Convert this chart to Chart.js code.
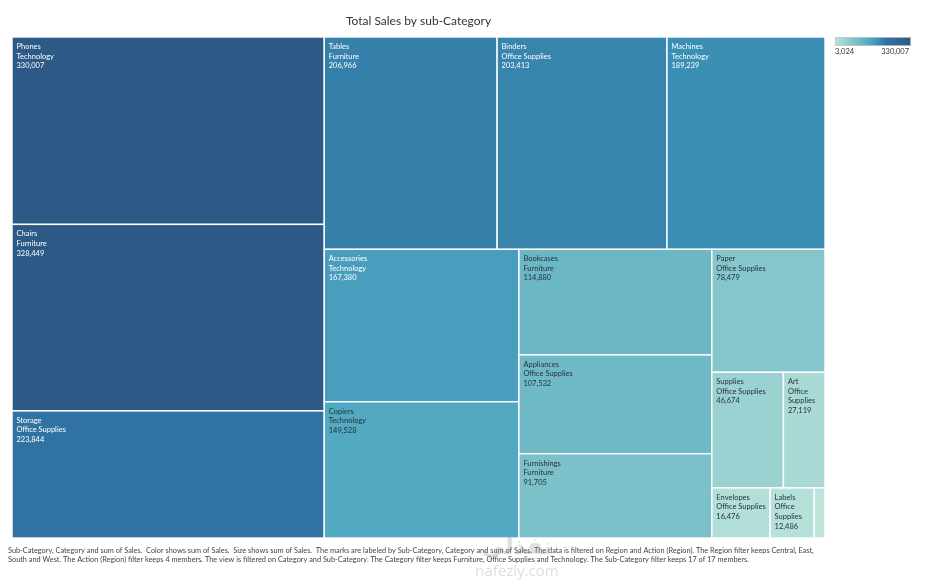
<!DOCTYPE html>
<html>
<head>
<meta charset="utf-8">
<script src="https://cdn.jsdelivr.net/npm/chart.js@4.4.1/dist/chart.umd.min.js"></script>
<style>
html,body{margin:0;padding:0;background:#ffffff;}
#wrap{width:925px;height:583px;position:relative;}
</style>
</head>
<body>
<div id="wrap"><canvas id="c" width="925" height="583"></canvas></div>
<script>
// ---- data ----
const subCategories = ['Phones','Chairs','Storage','Tables','Binders','Machines','Accessories','Copiers','Bookcases','Appliances','Furnishings','Paper','Supplies','Art','Envelopes','Labels','Fasteners'];
const categories = ['Technology','Furniture','Office Supplies','Furniture','Office Supplies','Technology','Technology','Technology','Furniture','Office Supplies','Furniture','Office Supplies','Office Supplies','Office Supplies','Office Supplies','Office Supplies','Office Supplies'];
const sales = [330007,328449,223844,206966,203413,189239,167380,149528,114880,107532,91705,78479,46674,27119,16476,12486,3024];
// number of cells per strip of the squarified layout, in order
const stripSizes = [3,3,2,3,1,2,1,1,1];
const legendTicks = ['3,024','330,007'];
const titleText = 'Total Sales by sub-Category';
const footerLines = [
  'Sub-Category, Category and sum of Sales.  Color shows sum of Sales.  Size shows sum of Sales.  The marks are labeled by Sub-Category, Category and sum of Sales. The data is filtered on Region and Action (Region). The Region filter keeps Central, East,',
  'South and West. The Action (Region) filter keeps 4 members. The view is filtered on Category and Sub-Category. The Category filter keeps Furniture, Office Supplies and Technology. The Sub-Category filter keeps 17 of 17 members.'
];

// ---- colour ramp (blue-teal) ----
const rampStops = [
  [0.00,[190,229,220]],
  [0.13,[155,209,209]],
  [0.27,[124,192,202]],
  [0.45,[82,169,193]],
  [0.57,[59,143,181]],
  [0.68,[48,114,161]],
  [1.00,[44,89,133]]
];
const minV = Math.min(...sales), maxV = Math.max(...sales);
function tOf(v){ return (v-minV)/(maxV-minV); }
function rampColor(t){
  for(let k=1;k<rampStops.length;k++){
    if(t<=rampStops[k][0]){
      const [t0,c0]=rampStops[k-1],[t1,c1]=rampStops[k];
      const f=(t-t0)/(t1-t0);
      const c=c0.map((a,j)=>Math.round(a+(c1[j]-a)*f));
      return `rgb(${c[0]},${c[1]},${c[2]})`;
    }
  }
  const c=rampStops[rampStops.length-1][1];
  return `rgb(${c[0]},${c[1]},${c[2]})`;
}
function fmt(v){ return v.toLocaleString('en-US'); }

// ---- treemap layout in data units (x 0..1, y 0..1) ----
function layout(aspect){
  let x=0,y=0,w=aspect,h=1;
  let rem = sales.reduce((a,b)=>a+b,0);
  let i=0; const rects=[];
  for(const k of stripSizes){
    const vals = sales.slice(i,i+k);
    const s = vals.reduce((a,b)=>a+b,0);
    if(w>h){
      const sw = w*s/rem; let yy=y;
      vals.forEach((v,j)=>{const hh=h*v/s; rects.push({i:i+j,x:x,y:yy,w:sw,h:hh}); yy+=hh;});
      x+=sw; w-=sw;
    } else {
      const sh = h*s/rem; let xx=x;
      vals.forEach((v,j)=>{const ww=w*v/s; rects.push({i:i+j,x:xx,y:y,w:ww,h:sh}); xx+=ww;});
      y+=sh; h-=sh;
    }
    rem-=s; i+=k;
  }
  return rects.map(r=>({i:r.i,x0:r.x/aspect,x1:(r.x+r.w)/aspect,y0:r.y,y1:r.y+r.h}));
}

function wrapWords(ctx,text,maxW){
  const words=text.split(' '); const lines=[]; let cur='';
  for(const w of words){
    const test=cur?cur+' '+w:w;
    if(ctx.measureText(test).width<=maxW || !cur){ cur=test; }
    else { lines.push(cur); cur=w; }
  }
  if(cur) lines.push(cur);
  return lines;
}

const treemapPlugin = {
  id:'treemap',
  afterDatasetsDraw(chart){
    const ctx=chart.ctx, xs=chart.scales.x, ys=chart.scales.y, ca=chart.chartArea;
    const rects=layout((ca.right-ca.left)/(ca.bottom-ca.top));
    ctx.save();
    rects.forEach(r=>{
      const px0=xs.getPixelForValue(r.x0), px1=xs.getPixelForValue(r.x1);
      const py0=ys.getPixelForValue(r.y0), py1=ys.getPixelForValue(r.y1);
      const t=tOf(sales[r.i]);
      ctx.fillStyle=rampColor(t);
      ctx.fillRect(px0,py0,px1-px0,py1-py0);
      ctx.strokeStyle='#ffffff'; ctx.lineWidth=1.4;
      ctx.strokeRect(px0,py0,px1-px0,py1-py0);
      // labels
      ctx.font='7.5px Lato';
      const maxW=(px1-px0)-7;
      const parts=[subCategories[r.i],categories[r.i],fmt(sales[r.i])];
      let lines=[]; let ok=true;
      parts.forEach(p=>{
        const ls=wrapWords(ctx,p,maxW);
        ls.forEach(l=>{ if(ctx.measureText(l).width>maxW) ok=false; });
        lines=lines.concat(ls);
      });
      if(ok && 9.5+(lines.length-1)*9.6+5 <= (py1-py0)){
        ctx.fillStyle = t>0.48 ? '#ffffff' : '#26323a';
        ctx.textBaseline='middle'; ctx.textAlign='left';
        lines.forEach((l,k)=>ctx.fillText(l,px0+4.5,py0+9.5+k*9.6));
      }
    });
    ctx.restore();
  },
  afterDraw(chart){
    const ctx=chart.ctx, ca=chart.chartArea;
    ctx.save();
    // colour legend
    const lx=ca.right+10, lw=76, ly=ca.top, lh=9;
    const g=ctx.createLinearGradient(lx,0,lx+lw,0);
    rampStops.forEach(s=>g.addColorStop(s[0],`rgb(${s[1].join(',')})`));
    ctx.fillStyle=g; ctx.fillRect(lx,ly,lw,lh);
    ctx.strokeStyle='#c8c8c8'; ctx.lineWidth=0.8; ctx.strokeRect(lx+0.5,ly+0.5,lw-1,lh-1);
    ctx.font='7.5px Lato'; ctx.fillStyle='#333333'; ctx.textBaseline='middle';
    ctx.textAlign='left'; ctx.fillText(legendTicks[0],lx,ly+15);
    ctx.textAlign='right'; ctx.fillText(legendTicks[1],lx+lw-2,ly+15);
    // footer
    ctx.font='7.35px Lato'; ctx.fillStyle='#444444'; ctx.textAlign='left';
    footerLines.forEach((l,k)=>ctx.fillText(l,8,ca.bottom+12.5+k*9));
    // watermark
    ctx.globalAlpha=0.28; ctx.fillStyle='#8a8a8a'; ctx.textAlign='center';
    ctx.font='bold 23px "DejaVu Sans"'; ctx.fillText('نفذلي',517,548);
    ctx.font='15px "Open Sans"'; ctx.fillText('nafezly.com',517,572);
    ctx.restore();
  }
};

new Chart(document.getElementById('c'),{
  type:'scatter',
  data:{datasets:[{data:[],pointRadius:0}]},
  options:{
    responsive:false,
    animation:false,
    devicePixelRatio:1,
    layout:{padding:{left:12,right:100,top:0,bottom:45}},
    plugins:{
      legend:{display:false},
      tooltip:{enabled:false},
      title:{display:true,text:titleText,color:'#333333',
        font:{family:'Lato',size:12,weight:'normal'},
        padding:{top:14,bottom:8.6}}
    },
    scales:{
      x:{type:'linear',min:0,max:1,display:false},
      y:{type:'linear',min:0,max:1,reverse:true,display:false}
    }
  },
  plugins:[treemapPlugin]
});
</script>
</body>
</html>
